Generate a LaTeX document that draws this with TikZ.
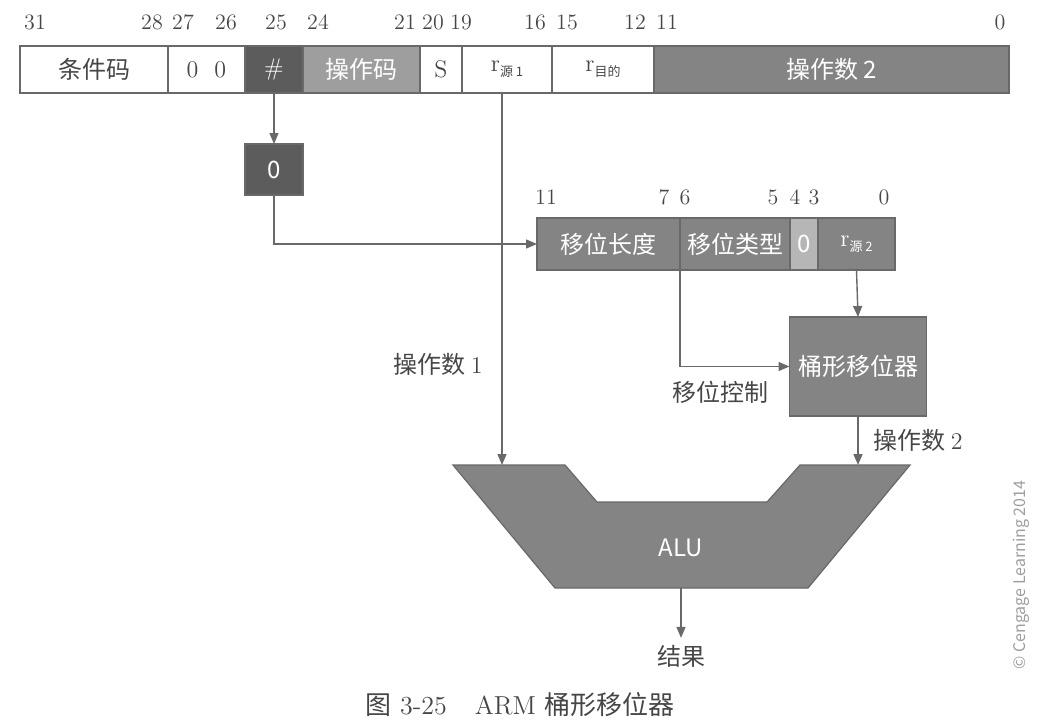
\documentclass[tikz,border=0pt]{standalone}
\usepackage{fontspec}
\newfontfamily\cjk{Noto Sans CJK SC}
\usetikzlibrary{positioning,arrows.meta}
\definecolor{RegDark}{RGB}{92,92,92}
\definecolor{RegMid}{RGB}{132,132,132}
\definecolor{RegLight}{RGB}{158,158,158}
\definecolor{RegPale}{RGB}{182,182,182}
\definecolor{LineGray}{RGB}{105,105,105}
\definecolor{TextGray}{RGB}{70,70,70}
\newcommand{\rsub}[1]{{\rmfamily r}\raisebox{-2.5pt}{\cjk\fontsize{6.5}{7}\selectfont #1}}

\begin{document}
\begin{tikzpicture}[x=0.5pt,y=-0.5pt,
field/.style={rectangle,draw=LineGray,line width=0.6pt,outer sep=0pt,inner sep=0pt,
minimum height=23.5pt,text=TextGray,font=\fontsize{12}{14}\selectfont\cjk},
wfield/.style={field,text=white},
bitno/.style={font=\fontsize{11}{13}\selectfont,text=TextGray},
lbl/.style={font=\fontsize{12}{14}\selectfont\cjk,text=TextGray},
arrow/.style={-{Triangle[length=5.5pt,width=4.5pt]},line width=0.7pt,draw=LineGray}
]
\useasboundingbox (0,0) rectangle (1048,725);
% instruction word
\node[field,minimum width=74pt] (cond) at (94,69.5) {条件码};
\node[field,minimum width=38.5pt,right=0pt of cond] (zeros) {\rmfamily 0\hspace{8pt}0};
\node[wfield,fill=RegDark,minimum width=29pt,right=0pt of zeros] (imm) {\rmfamily\#};
\node[wfield,fill=RegLight,minimum width=58.5pt,right=0pt of imm] (opc) {操作码};
\node[field,minimum width=21pt,right=0pt of opc] (sbit) {\rmfamily S};
\node[field,minimum width=45pt,right=0pt of sbit] (rn) {\rsub{源 1}};
\node[field,minimum width=51pt,right=0pt of rn] (rd) {\rsub{目的}};
\node[wfield,fill=RegMid,minimum width=177.5pt,right=0pt of rd] (op2) {操作数 2};
\foreach \x/\n in {35/31,152/28,183/27,226/26,276/25,318/24,405/21,433/20,461/19,535/16,567/15,635/12,667/11,1000/0}
  \node[bitno] (top\n) at (\x,22) {\n};
% shifter operand
\node[wfield,fill=RegMid,minimum height=26pt,minimum width=71.5pt] (shamt) at (608.5,244) {移位长度};
\node[wfield,fill=RegMid,minimum height=26pt,minimum width=55pt,right=0pt of shamt] (stype) {移位类型};
\node[wfield,fill=RegPale,minimum height=26pt,minimum width=14pt,right=0pt of stype] (zbit) {0};
\node[wfield,fill=RegMid,minimum height=26pt,minimum width=38.5pt,right=0pt of zbit] (rm) {\color{white}\rsub{源 2}};
\foreach \x/\n in {546/11,664/7,685/6,773/5,795/4,814/3,884/0}
  \node[bitno] (sh\n) at (\x,197) {\n};
\node[wfield,fill=RegDark,minimum width=29pt,minimum height=25.5pt] (zero) at (274,169.5) {0};
\node[wfield,fill=RegMid,minimum width=68.5pt,minimum height=49.5pt] (barrel) at (858,366.5) {桶形移位器};
% ALU
\fill[RegMid,draw=LineGray,line width=0.6pt] (453,465) -- (565,465) -- (597,502) -- (767,502) -- (800,465)
  -- (910,465) -- (808,588) -- (555,588) -- cycle;
\node[font=\fontsize{12}{14}\selectfont\cjk,text=white] (alu) at (681,548) {ALU};
\coordinate (aluA) at (502,465);
\coordinate (aluB) at (858,465);
\coordinate (aluout) at (681,588);
\node[lbl] (res) at (681,656) {结果};
% connectors
\draw[arrow] (imm.south) -- (zero.north);
\draw[arrow] (zero.south) |- (shamt.west);
\draw[arrow] (rn.south -| aluA) -- node[lbl,pos=0.73,left=6pt] (lop1) {操作数 \rmfamily 1} (aluA);
\draw[arrow] (rm.south) -- (barrel.north);
\draw[arrow] (stype.south west) |- (barrel.west);
\node[lbl,below left=4pt and 7pt of barrel.west] (lctl) {移位控制};
\draw[arrow] (barrel.south) -- node[lbl,right=4pt] (lop2) {操作数 \rmfamily 2} (aluB);
\draw[arrow] (aluout) -- (res.north);
% caption and credit
\node[font=\fontsize{13}{15}\selectfont,text=TextGray] (cap) at (520,705) {{\cjk 图} 3-25\hspace{14pt}ARM {\cjk 桶形移位器}};
\node[rotate=90,font=\fontsize{8}{9}\selectfont\cjk,text=RegLight] (credit) at (1021,575) {© Cengage Learning 2014};
\end{tikzpicture}
\end{document}
